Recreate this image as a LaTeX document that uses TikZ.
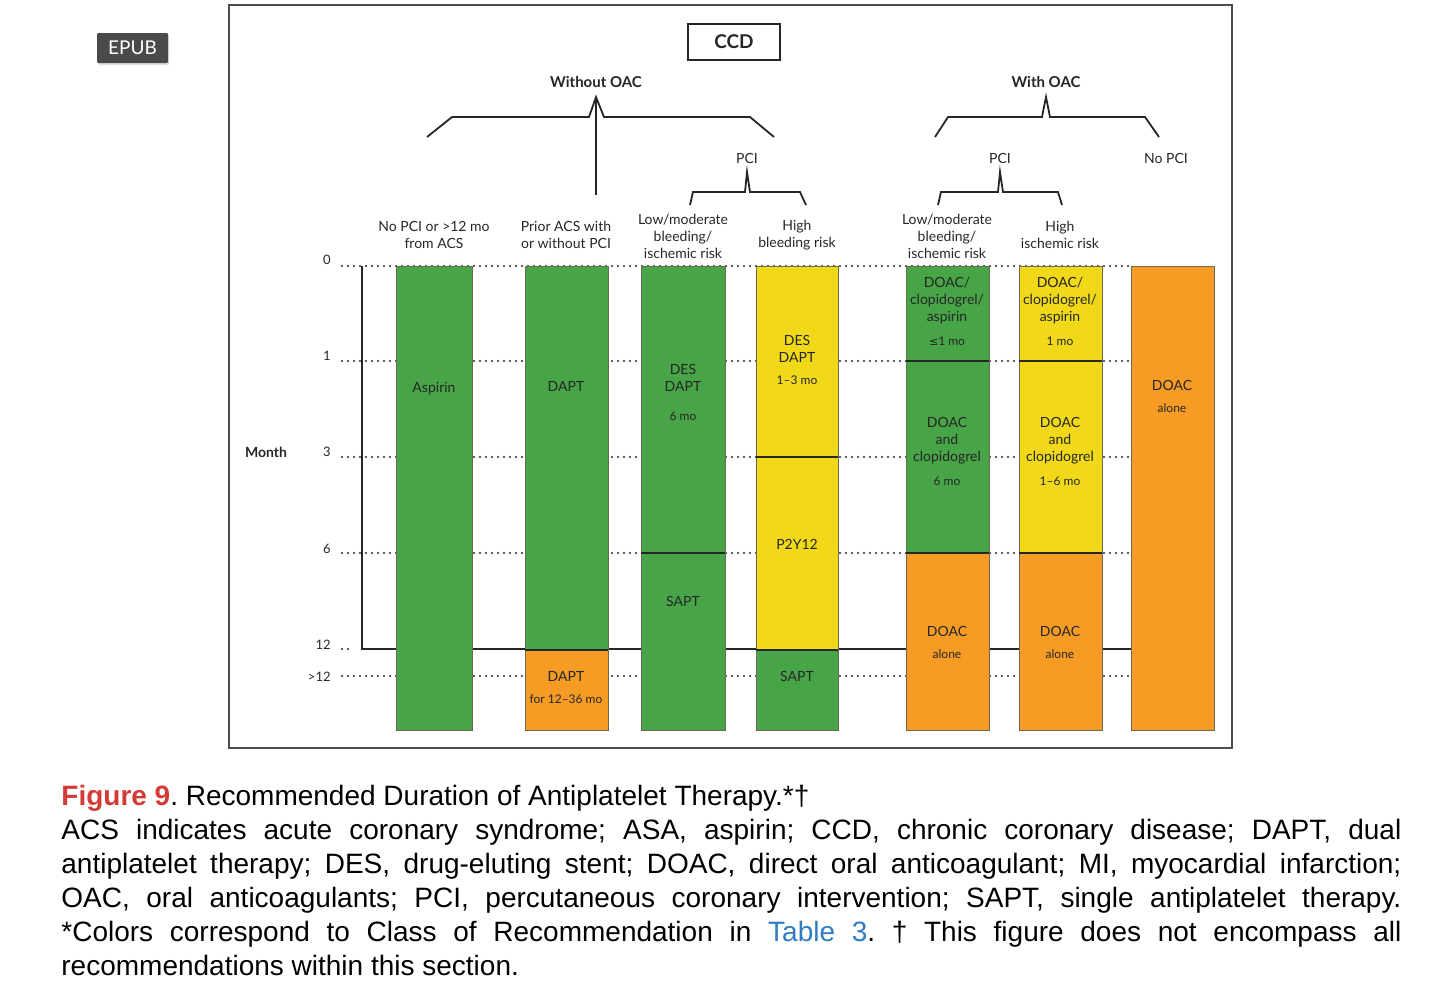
\documentclass[tikz,border=0pt]{standalone}
\usepackage{fontspec}
\setmainfont{Lato}
\newfontfamily\capfont{Liberation Sans}
\newfontfamily\symfont{DejaVu Sans}
\usepackage{tikz}
\usetikzlibrary{positioning,shadows}
\definecolor{ink}{HTML}{262626}
\definecolor{frameline}{HTML}{4D4D4D}
\definecolor{badge}{HTML}{4A4A4A}
\definecolor{green}{HTML}{47A447}
\definecolor{yellow}{HTML}{F1D91A}
\definecolor{orange}{HTML}{F69C24}
\definecolor{edge}{HTML}{6B6B55}
\definecolor{figred}{HTML}{D33B36}
\definecolor{linkblue}{HTML}{2F7CC1}
\tikzset{
  framebox/.style={draw=frameline,line width=1pt},
  badgebox/.style={rounded corners=0.6pt,fill=badge,text=white,minimum width=35.5pt,
    minimum height=15pt,inner sep=0pt,font=\fontsize{9.5}{11}\selectfont,
    drop shadow={opacity=0.25,shadow xshift=0.6pt,shadow yshift=-1pt}},
  ccdbox/.style={draw=ink,line width=0.9pt,minimum width=46pt,minimum height=18pt,
    inner sep=0pt,font=\bfseries\fontsize{9.5}{11}\selectfont,text=ink},
  headlbl/.style={font=\bfseries\fontsize{7.5}{9}\selectfont,text=ink,inner sep=0pt},
  sublbl/.style={font=\fontsize{7}{8.5}\selectfont,text=ink,inner sep=0pt},
  collbl/.style={font=\fontsize{7}{8.5}\selectfont,text=ink,align=center,inner sep=0pt},
  barlbl/.style={font=\fontsize{7}{8.5}\selectfont,text=ink,align=center,inner sep=0pt},
  durlbl/.style={font=\fontsize{6}{7}\selectfont,text=ink,align=center,inner sep=0pt},
  ticklbl/.style={font=\fontsize{6.5}{8}\selectfont,text=ink,anchor=east,inner sep=0pt},
  bracket/.style={draw=ink,line width=0.9pt},
  axisline/.style={draw=ink,line width=0.9pt},
  gridline/.style={draw=ink,line width=1.1pt,dash pattern=on 0pt off 3pt,line cap=round},
  greenbar/.style={fill=green,draw=edge,line width=0.5pt},
  yellowbar/.style={fill=yellow,draw=edge,line width=0.5pt},
  orangebar/.style={fill=orange,draw=edge,line width=0.5pt},
  divider/.style={draw=ink,line width=0.6pt},
  captext/.style={font=\capfont\fontsize{14}{17}\selectfont\frenchspacing,text=black,inner sep=0pt,anchor=base west}
}

\begin{document}
\begin{tikzpicture}[x=0.5pt,y=-0.5pt]
  \useasboundingbox (0,0) rectangle (1456,993);
  \node[badgebox] (epub) at (132.5,48) {EPUB};
  \draw[framebox] (229,5) rectangle (1232,748);

  % headings and brackets
  \node[ccdbox] (ccd) at (734,42) {CCD};
  \node[headlbl] (without) at (596,82) {Without OAC};
  \node[headlbl] (with) at (1046,82) {With OAC};
  \node[sublbl] (pciA) at (747,158) {PCI};
  \node[sublbl] (pciB) at (1000,158) {PCI};
  \node[sublbl] (nopci) at (1166,158) {No PCI};
  \draw[bracket] (427,137) -- (452,117) -- (589,117) -- (596,97) -- (604,117) -- (750,117) -- (774,137);
  \draw[bracket] (596,97) -- (596,195);
  \draw[bracket] (935,137) -- (948,117) -- (1042,117) -- (1046,97) -- (1050,117) -- (1145,117) -- (1159,137);
  \draw[bracket] (690,205) -- (693,192) -- (745,192) -- (747,172) -- (750,192) -- (800,192) -- (806,205);
  \draw[bracket] (938,205) -- (941,192) -- (998,192) -- (1000,172) -- (1003,192) -- (1058,192) -- (1062,205);

  % column labels
  \node[collbl] (colA) at (434,235) {No PCI or >12 mo\\from ACS};
  \node[collbl] (colB) at (566,235) {Prior ACS with\\or without PCI};
  \node[collbl] (colC) at (683,236) {Low/moderate\\bleeding/\\ischemic risk};
  \node[collbl] (colD) at (797,235) {High\\bleeding risk};
  \node[collbl] (colE) at (947,236) {Low/moderate\\bleeding/\\ischemic risk};
  \node[collbl] (colF) at (1060,235) {High\\ischemic risk};

  % month axis
  \node[headlbl,font=\bfseries\fontsize{7}{8.5}\selectfont] (month) at (266,452) {Month};
  \foreach \t/\y/\ly in {0/266/260,1/361/356,3/457/452,6/553/549,12/649/645,>12/676/677}
    \node[ticklbl] (tick\y) at (331,\ly) {\t};
  \foreach \y in {266,361,457,553,676}
    \draw[gridline] (342,\y) -- (1131,\y);
  \draw[gridline] (342,649) -- (352,649);
  \draw[axisline] (362,266) -- (362,649) -- (1131,649);

  % bars
  \draw[greenbar] (396,266) rectangle (472,730);
  \draw[greenbar] (525,266) rectangle (608,650);
  \draw[orangebar] (525,650) rectangle (608,730);
  \draw[greenbar] (641,266) rectangle (725,730);
  \draw[divider] (641,553) -- (725,553);
  \draw[yellowbar] (756,266) rectangle (838,457);
  \draw[yellowbar] (756,457) rectangle (838,650);
  \draw[greenbar] (756,650) rectangle (838,730);
  \draw[greenbar] (906,266) rectangle (989,361);
  \draw[greenbar] (906,361) rectangle (989,553);
  \draw[orangebar] (906,553) rectangle (989,730);
  \draw[yellowbar] (1019,266) rectangle (1102,361);
  \draw[yellowbar] (1019,361) rectangle (1102,553);
  \draw[orangebar] (1019,553) rectangle (1102,730);
  \draw[orangebar] (1131,266) rectangle (1214,730);
  \foreach \x/\a/\b in {525/608/650,756/838/457,756/838/650,906/989/361,906/989/553,1019/1102/361,1019/1102/553}
    \draw[divider] (\x,\b) -- (\a,\b);

  % bar texts
  \node[barlbl] (aspirin) at (434,389) {Aspirin};
  \node[barlbl] (dapt) at (566,386) {DAPT};
  \node[barlbl] (daptlong) at (566,676) {DAPT};
  \node[durlbl] (daptlongdur) at (566,699) {for 12–36 mo};
  \node[barlbl] (desA) at (683,377.5) {DES\\DAPT};
  \node[durlbl] (desAdur) at (683,416) {6 mo};
  \node[barlbl] (saptA) at (683,601) {SAPT};
  \node[barlbl] (desB) at (797,348.5) {DES\\DAPT};
  \node[durlbl] (desBdur) at (797,380) {1–3 mo};
  \node[barlbl] (ptwo) at (797,544) {P2Y12};
  \node[barlbl] (saptB) at (797,676) {SAPT};
  \node[barlbl] (tripleA) at (947,301) {DOAC/\\clopidogrel/\\aspirin};
  \node[durlbl] (tripleAdur) at (947,341) {{\symfont\fontsize{5.5}{7}\selectfont≤}1 mo};
  \node[barlbl] (dualA) at (947,441) {DOAC\\and\\clopidogrel};
  \node[durlbl] (dualAdur) at (947,481) {6 mo};
  \node[barlbl] (aloneA) at (947,631) {DOAC};
  \node[durlbl] (aloneAdur) at (947,654) {alone};
  \node[barlbl] (tripleB) at (1060,301) {DOAC/\\clopidogrel/\\aspirin};
  \node[durlbl] (tripleBdur) at (1060,341) {1 mo};
  \node[barlbl] (dualB) at (1060,441) {DOAC\\and\\clopidogrel};
  \node[durlbl] (dualBdur) at (1060,481) {1–6 mo};
  \node[barlbl] (aloneB) at (1060,631) {DOAC};
  \node[durlbl] (aloneBdur) at (1060,654) {alone};
  \node[barlbl] (aloneC) at (1172,385) {DOAC};
  \node[durlbl] (aloneCdur) at (1172,408) {alone};

  % caption
  \node[captext] (capA) at (61,805) {{\color{figred}\bfseries Figure 9}. Recommended Duration of Antiplatelet Therapy.*†};
  \node[captext] (capB) at (61,839) {\makebox[670pt][s]{ACS indicates acute coronary syndrome; ASA, aspirin; CCD, chronic coronary disease; DAPT, dual}};
  \node[captext] (capC) at (61,873) {\makebox[670pt][s]{antiplatelet therapy; DES, drug-eluting stent; DOAC, direct oral anticoagulant; MI, myocardial infarction;}};
  \node[captext] (capD) at (61,907) {\makebox[670pt][s]{OAC, oral anticoagulants; PCI, percutaneous coronary intervention; SAPT, single antiplatelet therapy.}};
  \node[captext] (capE) at (61,941) {\makebox[670pt][s]{*Colors correspond to Class of Recommendation in {\color{linkblue}Table 3}. † This figure does not encompass all}};
  \node[captext] (capF) at (61,975) {recommendations within this section.};
\end{tikzpicture}
\end{document}
